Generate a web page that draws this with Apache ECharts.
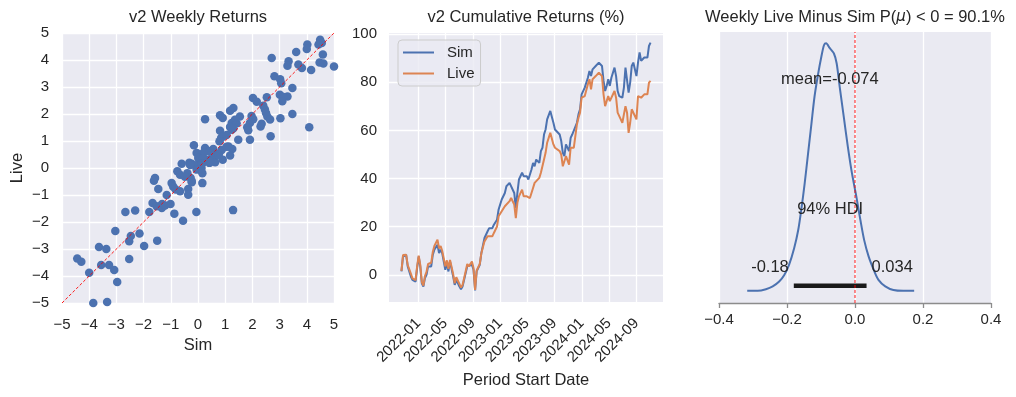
<!DOCTYPE html>
<html>
<head>
<meta charset="utf-8">
<script src="https://cdn.jsdelivr.net/npm/echarts@6/dist/echarts.min.js"></script>
<style>
  html, body { margin: 0; padding: 0; background: #fff; }
  #main { width: 1016px; height: 397px; }
</style>
</head>
<body>
<div id="main"></div>
<script>
// panel 1: weekly returns, sim vs live (%)
const simWeekly = [4.49,4.55,4.43,4.02,4.00,3.61,4.59,2.71,3.33,3.29,3.69,3.82,4.47,4.61,5.00,4.16,2.81,3.02,3.06,3.47,3.29,3.01,3.14,3.10,2.02,2.16,2.53,2.40,2.46,2.50,2.55,3.47,3.03,2.65,4.09,2.67,
  1.30,1.18,0.26,0.81,0.91,1.54,1.36,1.24,1.97,2.03,1.91,1.81,1.85,2.30,2.34,1.18,1.24,0.81,1.48,1.91,0.85,0.93,1.05,0.79,1.42,1.30,-0.15,1.12,1.26,1.18,0.91,0.77,0.63,0.26,0.42,0.20,-0.05,0.01,0.07,0.32,0.50,0.63,0.17,0.42,-0.23,-0.32,-0.11,0.13,-0.05,-0.60,-0.76,-0.66,-0.39,-0.23,-0.27,0.16,0.16,0.56,0.44,0.87,1.05,0.19,-0.29,0.14,0.44,0.75,
  -1.58,-1.62,-1.46,-0.97,-0.82,-0.66,-0.36,-0.36,-0.23,-0.48,-0.91,-1.15,-1.67,-1.52,-1.32,-1.33,-1.21,-1.01,-1.79,-2.31,-2.67,-0.87,-0.55,-0.06,1.29,-3.04,-2.15,-2.47,-2.53,-1.50,-1.98,-3.64,-3.37,-4.44,-4.29,-2.53,-3.56,-3.27,-3.08,-4.00,-2.97,-3.85,-3.34];
const liveWeekly = [4.75,4.63,4.57,4.57,4.41,4.30,4.20,4.07,3.95,3.79,3.83,3.70,3.91,3.87,3.76,3.63,3.40,3.29,3.14,2.96,2.65,2.71,2.63,2.47,2.59,2.45,2.62,2.31,2.17,2.04,1.91,2.00,1.84,1.80,1.51,1.18,
  2.22,2.12,1.81,1.95,1.85,1.91,1.79,1.67,1.93,1.81,1.67,1.51,1.40,1.54,1.64,1.52,1.42,1.38,1.05,1.05,1.11,1.18,1.22,0.99,1.66,1.47,0.84,0.80,0.70,0.46,0.31,0.53,0.43,0.74,0.62,0.56,0.56,0.37,0.31,0.31,0.31,0.21,0.19,0.19,0.16,0.19,0.10,0.00,-0.06,0.16,-0.12,-0.25,-0.19,-0.49,-0.37,-0.19,-0.56,0.70,0.60,0.67,0.79,0.36,0.11,0.17,0.23,0.48,
  -0.37,-0.47,-0.78,-0.56,-0.80,-0.86,-0.78,-0.99,-0.53,-0.32,-0.69,-1.00,-1.30,-1.42,-1.33,-1.48,-1.39,-1.33,-1.63,-1.57,-1.63,-1.69,-1.95,-1.63,-1.56,-2.33,-2.43,-2.52,-2.71,-2.69,-2.89,-2.93,-3.00,-3.35,-3.47,-3.37,-3.59,-3.59,-3.78,-3.88,-4.22,-5.00,-4.96];
const parityLine = [-5, 5];

// panel 2: cumulative returns (%), by week number from the first period start
const firstPeriod = '2021-10-17';
const weekIdx = [0,1,3,4,6,7,9,10,11,12,13,14,15,16,17,19,20,21,23,24,25,26,28,29,30,31,33,34,35,37,38,39,41,42,43,45,46,47,48,50,
  51,53,55,56,58,59,61,62,64,65,66,67,69,70,72,73,74,75,76,77,78,80,81,82,83,84,85,86,88,89,90,91,92,93,94,95,97,98,99,101,
  102,103,104,105,107,108,109,110,112,113,114,115,117,118,119,120,121,122,123,124,126,127,128,129,130,131,132,133,134,136,137,138,139,140,141,142,143,144,145,146,
  147,148,150,151,152,153,154,155,156,157,158,159];
const simCum = [1.4,7.6,8.3,3.5,-0.7,-2.1,-2.8,2.8,7.6,3.5,-3.5,-4.9,-1.4,0.0,3.5,3.5,8.3,10.4,12.5,9.0,10.4,9.0,2.1,4.9,1.4,5.6,-0.7,-4.2,-2.1,-4.9,-6.0,-4.9,0.7,3.5,2.8,4.2,2.1,-6.5,1.4,4.2,
  9.0,15.3,18.1,19.4,19.4,20.8,22.9,27.1,31.3,30.6,34.0,36.8,38.2,37.9,34.0,27.8,34.0,39.6,40.3,42.4,41.0,41.0,39.6,40.3,43.8,46.5,45.1,47.9,46.5,51.4,52.8,58.3,60.4,64.6,63.9,68.1,63.2,60.4,59.7,58.3,
  55.6,50.7,49.3,54.2,51.4,56.9,58.3,58.3,63.2,66.7,68.8,75.0,77.8,77.8,81.9,84.7,82.6,85.4,86.1,86.8,88.2,88.9,86.8,80.6,76.4,78.5,81.3,78.5,81.9,86.1,82.6,76.4,74.3,73.6,73.6,77.8,86.1,86.1,75.7,79.9,
  86.8,88.2,82.6,88.2,92.4,88.9,89.6,90.3,91.0,90.3,95.1,96.5];
const liveCum = [1.6,8.2,8.3,4.0,0.5,-1.5,-2.2,3.5,8.0,4.2,-3.0,-4.5,-0.5,1.2,4.5,5.0,9.5,12.0,14.6,11.0,12.0,10.0,3.5,6.0,2.5,6.2,0.3,-3.5,-1.0,-3.8,-5.3,-4.2,1.5,4.5,3.5,5.5,2.8,-6.3,1.8,4.5,
  9.0,13.9,16.0,16.7,16.0,17.4,20.1,24.3,26.4,25.7,28.5,29.2,30.6,31.9,29.2,23.6,29.9,32.6,32.6,35.4,32.6,32.6,31.9,31.9,32.6,36.1,38.2,37.5,40.3,42.4,43.1,47.9,50.7,54.9,54.2,59.0,54.2,52.8,52.1,51.4,
  50.0,45.1,44.4,49.3,45.8,52.8,53.5,52.8,62.5,65.3,67.4,73.6,74.3,74.3,79.2,81.3,77.1,81.3,81.9,82.6,84.0,84.7,82.6,75.0,70.1,70.8,74.3,72.2,72.9,76.4,73.6,67.4,66.7,64.6,63.2,66.7,70.1,67.4,59.0,63.2,
  68.8,69.4,64.6,74.3,75.0,73.6,74.3,75.0,75.7,75.0,79.9,80.6];
const dateTicks = ['2022-01','2022-05','2022-09','2023-01','2023-05','2023-09','2024-01','2024-05','2024-09'];
const cumTicks = [0, 20, 40, 60, 80, 100];

// panel 3: posterior of weekly live minus sim
const kdeX = [-0.317,-0.286,-0.262,-0.242,-0.223,-0.208,-0.194,-0.179,-0.167,-0.158,-0.148,-0.138,-0.128,-0.119,-0.109,-0.099,-0.091,-0.085,
  -0.074,-0.062,-0.054,-0.045,-0.033,-0.021,-0.009,0.004,0.016,0.027,0.040,0.055,0.069,0.089,0.113,0.142,0.174];
const kdeY = [0,0,0.04,0.11,0.23,0.39,0.64,1.05,1.50,2.00,2.65,3.39,4.13,4.79,5.32,5.77,6.06,6.10,
  5.98,5.85,5.61,5.03,4.29,3.55,2.90,2.32,1.74,1.25,0.85,0.52,0.27,0.11,0.02,0,0];
const hdi = [-0.18, 0.034];
const postMean = -0.074;
const refVal = 0;
const probBelow = 90.1;

const FONT = '"Liberation Sans", Arial, sans-serif';
const INK = '#262626';
const BG = '#EAEAF2';
const BLUE = '#4C72B0';
const ORANGE = '#DD8452';
const DAY = 86400000;

const uminus = v => String(v).replace('-', '\u2212');
const txt = (size) => ({ fontSize: size, color: INK, fontFamily: FONT });

const startMs = Date.parse(firstPeriod + 'T00:00:00Z');
const weekMs = weekIdx.map(w => startMs + w * 7 * DAY);
const xPad = (weekMs[weekMs.length - 1] - weekMs[0]) * 0.05;
const tickMs = dateTicks.map(s => Date.parse(s + '-01T00:00:00Z'));
const fmtMonth = v => {
  const d = new Date(v);
  return d.getUTCFullYear() + '-' + String(d.getUTCMonth() + 1).padStart(2, '0');
};
const peak = Math.max(...kdeY);
const postRange = [-0.30, 6.38];

const chart = echarts.init(document.getElementById('main'), null, { renderer: 'canvas' });

const whiteGrid = { show: true, lineStyle: { color: '#ffffff', width: 1.3 } };
const redDash = { color: '#ff0000', width: 0.9, type: [3, 2] };

chart.setOption({
  animation: false,
  backgroundColor: '#ffffff',
  textStyle: { fontFamily: FONT },
  title: [
    { text: 'v2 Weekly Returns', left: 198, top: 9, textAlign: 'center', padding: 0, textStyle: Object.assign(txt(16.5), { fontWeight: 'normal' }) },
    { text: 'v2 Cumulative Returns (%)', left: 526, top: 9, textAlign: 'center', padding: 0, textStyle: Object.assign(txt(16.5), { fontWeight: 'normal' }) },
    { text: 'Weekly Live Minus Sim P({i|\u03bc}) < 0 = ' + probBelow + '%', left: 855, top: 9, textAlign: 'center', padding: 0,
      textStyle: Object.assign(txt(16.5), { fontWeight: 'normal', rich: { i: { fontStyle: 'italic', fontFamily: '"DejaVu Sans"', fontSize: 15, color: INK } } }) }
  ],
  legend: {
    data: ['Sim', 'Live'],
    orient: 'vertical',
    left: 398, top: 40,
    padding: [5, 6, 5, 5],
    itemGap: 6,
    itemWidth: 31, itemHeight: 2,
    icon: 'rect',
    backgroundColor: 'rgba(234,234,242,0.8)',
    borderColor: '#cccccc', borderWidth: 1, borderRadius: 4,
    textStyle: Object.assign(txt(15), { padding: [0, 0, 0, 8] })
  },
  grid: [
    { left: 62, top: 33, width: 272, height: 270, show: true, backgroundColor: BG, borderWidth: 0 },
    { left: 389, top: 33, width: 274, height: 269, show: true, backgroundColor: BG, borderWidth: 0 },
    { left: 719, top: 32, width: 272, height: 271, show: true, backgroundColor: BG, borderWidth: 0 }
  ],
  xAxis: [
    { gridIndex: 0, type: 'value', min: -5, max: 5, interval: 1,
      axisLine: { show: false, onZero: false }, axisTick: { show: false }, splitLine: whiteGrid,
      axisLabel: Object.assign(txt(15), { margin: 14, formatter: v => uminus(v) }),
      name: 'Sim', nameLocation: 'middle', nameGap: 30, nameTextStyle: txt(16.5) },
    { gridIndex: 1, type: 'value', min: weekMs[0] - xPad, max: weekMs[weekMs.length - 1] + xPad,
      axisLine: { show: false, onZero: false }, axisTick: { show: false, customValues: tickMs }, splitLine: whiteGrid,
      axisLabel: Object.assign(txt(15), { margin: 19, rotate: 45, customValues: tickMs, formatter: v => fmtMonth(v) }),
      name: 'Period Start Date', nameLocation: 'middle', nameGap: 70, nameTextStyle: txt(16.5) },
    { gridIndex: 2, type: 'value', min: -0.4, max: 0.4, interval: 0.2,
      axisLine: { show: true, onZero: false, lineStyle: { color: '#8c8c8c', width: 1.3 } },
      axisTick: { show: true, length: 5, lineStyle: { color: '#8c8c8c', width: 1.3 } },
      splitLine: whiteGrid,
      axisLabel: Object.assign(txt(15), { margin: 9, formatter: v => uminus(v.toFixed(1)) }) }
  ],
  yAxis: [
    { gridIndex: 0, type: 'value', min: -5, max: 5, interval: 1,
      axisLine: { show: false, onZero: false }, axisTick: { show: false }, splitLine: whiteGrid,
      axisLabel: Object.assign(txt(15), { margin: 13, formatter: v => uminus(v) }),
      name: 'Live', nameLocation: 'middle', nameGap: 36, nameTextStyle: txt(16.5) },
    { gridIndex: 1, type: 'value', min: -11.3, max: 100.5,
      axisLine: { show: false, onZero: false }, axisTick: { show: false, customValues: cumTicks }, splitLine: whiteGrid,
      axisLabel: Object.assign(txt(15), { margin: 12, customValues: cumTicks }) },
    { gridIndex: 2, type: 'value', min: postRange[0], max: postRange[1], show: false, splitLine: { show: false } }
  ],
  series: [
    { type: 'scatter', xAxisIndex: 0, yAxisIndex: 0, symbolSize: 8.5,
      itemStyle: { color: BLUE, opacity: 1 },
      data: simWeekly.map((s, i) => [s, liveWeekly[i]]) },
    { type: 'line', xAxisIndex: 0, yAxisIndex: 0, symbol: 'none', z: 5, silent: true,
      lineStyle: redDash,
      data: parityLine.map(v => [v, v]) },
    { name: 'Sim', type: 'line', xAxisIndex: 1, yAxisIndex: 1, symbol: 'none',
      lineStyle: { color: BLUE, width: 2 }, itemStyle: { color: BLUE },
      data: weekMs.map((t, i) => [t, simCum[i]]) },
    { name: 'Live', type: 'line', xAxisIndex: 1, yAxisIndex: 1, symbol: 'none',
      lineStyle: { color: ORANGE, width: 2 }, itemStyle: { color: ORANGE },
      data: weekMs.map((t, i) => [t, liveCum[i]]) },
    { type: 'line', xAxisIndex: 2, yAxisIndex: 2, symbol: 'none', smooth: 0.3,
      lineStyle: { color: BLUE, width: 2 },
      data: kdeX.map((x, i) => [x, kdeY[i]]) },
    { type: 'line', xAxisIndex: 2, yAxisIndex: 2, symbol: 'none', silent: true, z: 4,
      lineStyle: redDash,
      data: postRange.map(v => [refVal, v]) },
    { type: 'line', xAxisIndex: 2, yAxisIndex: 2, symbol: 'none', silent: true,
      lineStyle: { color: '#1a1a1a', width: 4.5, cap: 'butt' },
      data: hdi.map(v => [v, peak * 0.021]) },
    { type: 'scatter', xAxisIndex: 2, yAxisIndex: 2, symbolSize: 1, silent: true, z: 6,
      itemStyle: { color: 'rgba(0,0,0,0)', opacity: 1 },
      label: Object.assign(txt(16.5), { show: true, position: 'inside', textBorderWidth: 0, opacity: 1 }),
      data: [
        { value: [postMean, peak * 0.855], label: { formatter: 'mean=' + postMean } },
        { value: [(hdi[0] + hdi[1]) / 2, peak * 0.33], label: { formatter: '94% HDI' } },
        { value: [hdi[0], peak * 0.093], label: { formatter: String(hdi[0]), align: 'right', offset: [-5, 0] } },
        { value: [hdi[1], peak * 0.093], label: { formatter: String(hdi[1]), align: 'left', offset: [5, 0] } }
      ] }
  ]
});
</script>
</body>
</html>
